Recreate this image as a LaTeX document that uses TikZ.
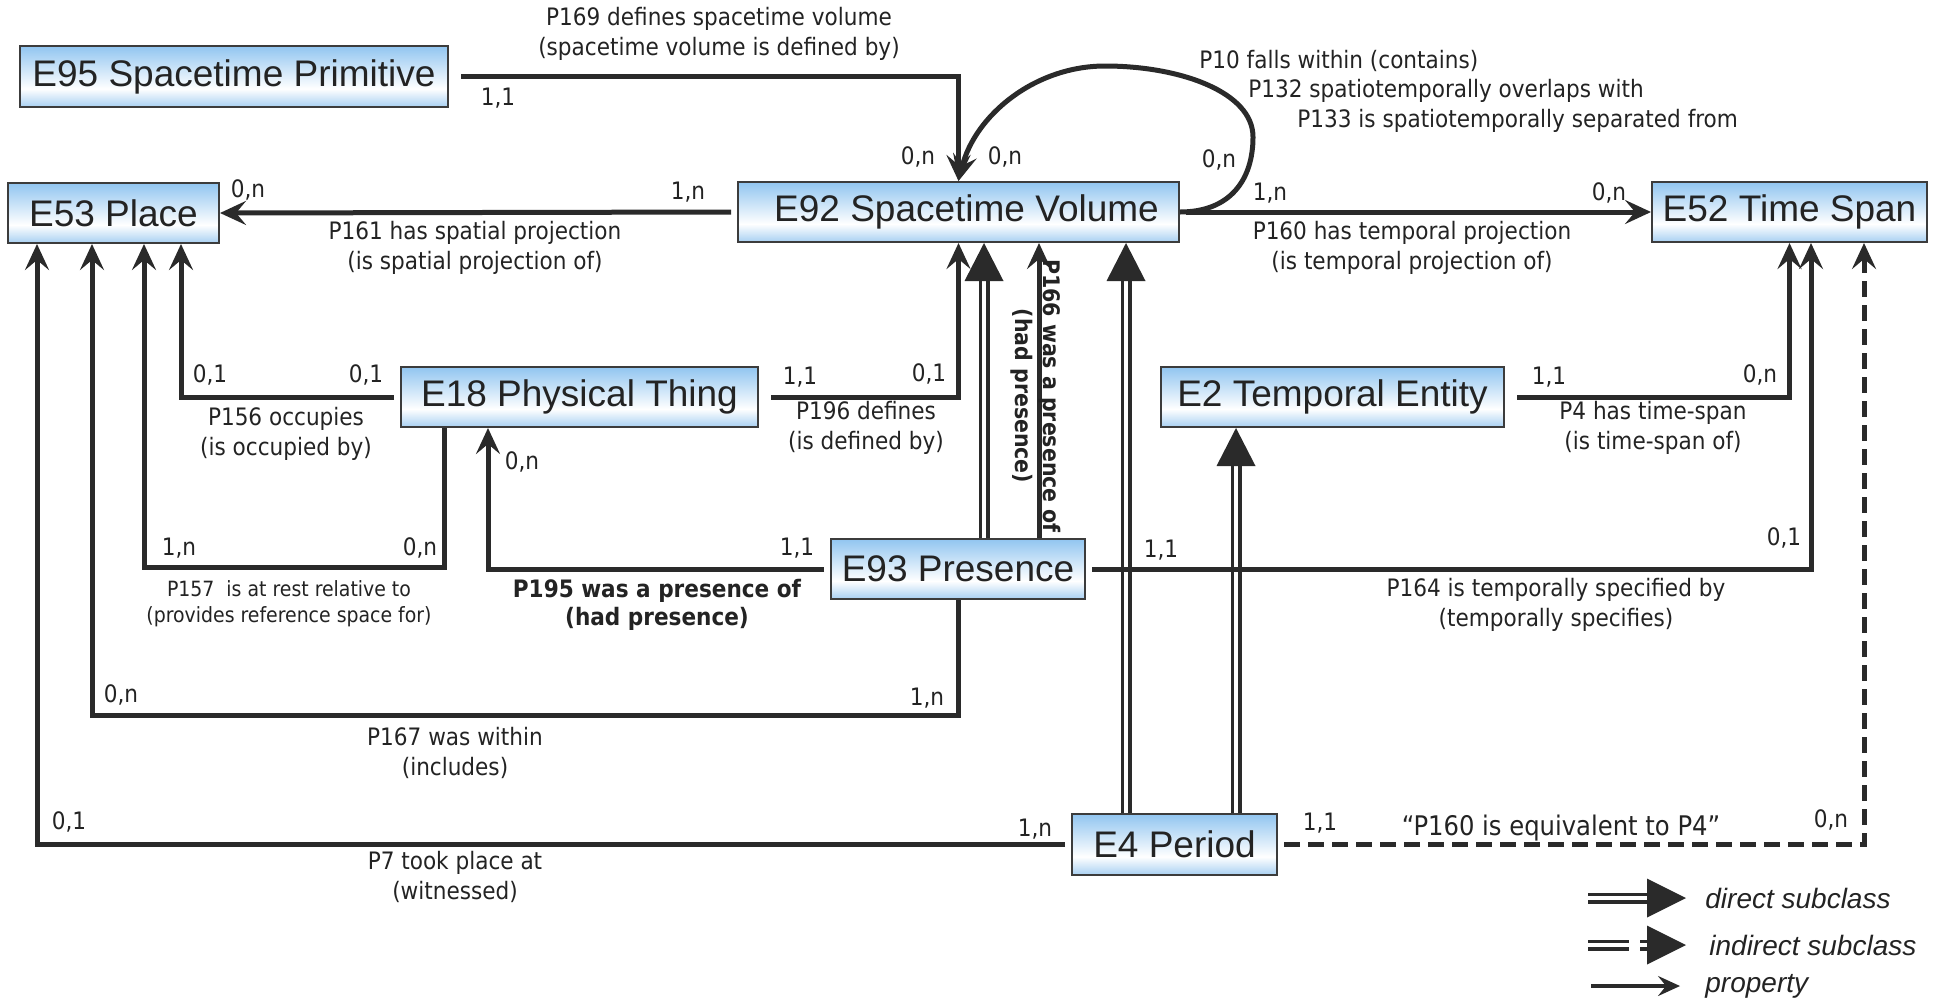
\documentclass[tikz,border=0pt]{standalone}
\usepackage{fontspec}
\setmainfont{DejaVu Sans Condensed}
\newfontfamily\boxfont{Liberation Sans}
\usetikzlibrary{arrows.meta,calc}
\definecolor{ln}{RGB}{42,42,42}
\definecolor{txt}{RGB}{35,35,35}
\definecolor{boxline}{RGB}{60,60,60}
\definecolor{btop}{RGB}{145,197,240}
\definecolor{bbot}{RGB}{168,208,242}
\pgfdeclareverticalshading{boxshade}{100bp}{color(0bp)=(bbot); color(25bp)=(bbot); color(40bp)=(white); color(75bp)=(btop); color(100bp)=(btop)}
\tikzset{
  cls/.style={draw=boxline, line width=1pt, shade, shading=boxshade, inner sep=0pt,
    font=\boxfont\fontsize{18.5}{22}\selectfont, text=txt},
  prop/.style={draw=ln, line width=2.5pt, -{Stealth[length=13pt,width=12pt,inset=5pt]}},
  legprop/.style={draw=ln, line width=1.6pt, -{Stealth[length=11pt,width=10pt,inset=4pt]}},
  dbl/.style={draw=ln, line width=1.75pt, double=white, double distance=2pt},
  card/.style={font=\fontsize{12}{14}\selectfont, text=txt, inner sep=0pt},
  lbl/.style={font=\fontsize{12}{15}\selectfont, align=center, text=txt, inner sep=0pt},
  lblsmall/.style={font=\fontsize{10.5}{13}\selectfont, align=center, text=txt, inner sep=0pt},
  lblbold/.style={font=\fontsize{12}{14}\selectfont\bfseries, align=center, text=txt, inner sep=0pt},
  legtext/.style={font=\boxfont\itshape\fontsize{14}{16}\selectfont, text=txt, inner sep=0pt, anchor=west},
  dashline/.style={dash pattern=on 8pt off 4pt}
}
\begin{document}
\begin{tikzpicture}[x=0.5pt,y=-0.5pt]
\useasboundingbox (0,0) rectangle (1941,1002);

% classes
\node[cls, minimum width=214pt, minimum height=30.5pt] (e95) at (234,76.5) {E95 Spacetime Primitive};
\node[cls, minimum width=105.5pt, minimum height=30pt] (e53) at (113.5,213) {E53 Place};
\node[cls, minimum width=220.5pt, minimum height=30pt] (e92) at (958.5,212) {\hspace*{8pt}E92 Spacetime Volume};
\node[cls, minimum width=137.5pt, minimum height=30pt] (e52) at (1789.5,212) {E52 Time Span};
\node[cls, minimum width=178.5pt, minimum height=30pt] (e18) at (579.5,397) {E18 Physical Thing};
\node[cls, minimum width=171.5pt, minimum height=30pt] (e2) at (1332.5,397) {E2 Temporal Entity};
\node[cls, minimum width=127pt, minimum height=30pt] (e93) at (958,569) {E93 Presence};
\node[cls, minimum width=102.5pt, minimum height=30.5pt] (e4) at (1174.5,844.5) {E4 Period};

% helper coordinates for connector routes
\coordinate (c156) at (181,0);
\coordinate (c157) at (444,567);
\coordinate (c157b) at (144,567);
\coordinate (c195) at (488,0);
\coordinate (c167) at (92,715);
\coordinate (c7) at (37,0);
\coordinate (c164) at (1811,0);
\coordinate (c160) at (1864,0);
\coordinate (c166) at (1039,0);
\coordinate (s1) at (984,0);
\coordinate (s2) at (1126,0);
\coordinate (s3) at (1236,0);

% subclass links
\draw[dbl, shorten >=15pt] (s1 |- e93.north) -- (s1 |- e92.south);
\fill[ln] (s1 |- e92.south) -- ++(-19.5,38) -- ++(39,0) -- cycle;
\draw[dbl, shorten >=15pt] (s2 |- e4.north) -- (s2 |- e92.south);
\fill[ln] (s2 |- e92.south) -- ++(-19.5,38) -- ++(39,0) -- cycle;
\draw[dbl, shorten >=15pt] (s3 |- e4.north) -- (s3 |- e2.south);
\fill[ln] (s3 |- e2.south) -- ++(-19.5,38) -- ++(39,0) -- cycle;

% properties
\draw[prop, shorten <=6pt] (e95.east) -| (e92.north);
\draw[prop] (e92.east) .. controls (1230,212) and (1253,180) .. (1253,137)
  .. controls (1253,92) and (1180,66) .. (1105,66)
  .. controls (1035,66) and (975,115) .. (e92.north);
\draw[prop, shorten <=3pt] (e92.west) -- (e53.east);
\draw[prop, shorten <=3pt] (e92.east) -- (e52.west);
\draw[prop, shorten <=3pt] (e18.west) -| (c156 |- e53.south);
\draw[prop] (c157 |- e18.south) -- (c157) -- (c157b) -- (c157b |- e53.south);
\draw[prop, shorten <=3pt] (e93.west) -| (c195 |- e18.south);
\draw[prop] (e93.south) |- (c167) -- (c167 |- e53.south);
\draw[prop, shorten <=3pt] (e4.west) -| (c7 |- e53.south);
\draw[prop, shorten <=6pt] (e18.east) -| (e92.south);
\draw[prop] (c166 |- e93.north) -- (c166 |- e92.south);
\draw[prop, shorten <=3pt] (e93.east) -| (c164 |- e52.south);
\draw[prop, shorten <=6pt] (e2.east) -| (e52.south);
\draw[prop, dashline, shorten <=3pt] (e4.east) -| (c160 |- e52.south);

% property labels
\node[lbl] (l169) at (719,34) {P169 defines spacetime volume\\(spacetime volume is defined by)};
\node[lbl, anchor=west] (l10) at (1199,61) {P10 falls within (contains)};
\node[lbl, anchor=west] (l132) at (1248,91) {P132 spatiotemporally overlaps with};
\node[lbl, anchor=west] (l133) at (1297,121) {P133 is spatiotemporally separated from};
\node[lbl] (l161) at (475,248) {P161 has spatial projection\\(is spatial projection of)};
\node[lbl] (l160) at (1412,248) {P160 has temporal projection\\(is temporal projection of)};
\node[lbl] (l156) at (286,434) {P156 occupies\\(is occupied by)};
\node[lbl] (l196) at (866,428) {P196 defines\\(is defined by)};
\node[lbl] (l4) at (1653,428) {P4 has time-span\\(is time-span of)};
\node[lblsmall] (l157) at (289,604) {P157~~is at rest relative to\\(provides reference space for)};
\node[lblbold] (l195) at (657,605) {P195 was a presence of\\(had presence)};
\node[lblbold, font=\fontsize{11.4}{14}\selectfont\bfseries, rotate=-90] (l166) at (1036,396) {P166 was a presence of\\(had presence)};
\node[lbl] (l164) at (1556,605) {P164 is temporally specified by\\(temporally specifies)};
\node[lbl] (l167) at (455,753) {P167 was within\\(includes)};
\node[lbl] (l7) at (455,877) {P7 took place at\\(witnessed)};
\node[lbl, font=\fontsize{13.5}{16}\selectfont] (leq) at (1561,828) {“P160 is equivalent to P4”};

% cardinalities
\node[card] (k1) at (498,98) {1,1};
\node[card] (k2) at (918,157) {0,n};
\node[card] (k3) at (1005,157) {0,n};
\node[card] (k4) at (1219,160) {0,n};
\node[card] (k5) at (688,192) {1,n};
\node[card] (k6) at (248,190) {0,n};
\node[card] (k7) at (1270,193) {1,n};
\node[card] (k8) at (1609,193) {0,n};
\node[card] (k9) at (210,375) {0,1};
\node[card] (k10) at (366,375) {0,1};
\node[card] (k11) at (179,548) {1,n};
\node[card] (k12) at (420,548) {0,n};
\node[card] (k13) at (797,548) {1,1};
\node[card] (k14) at (522,462) {0,n};
\node[card] (k15) at (800,377) {1,1};
\node[card] (k16) at (929,374) {0,1};
\node[card] (k17) at (1161,550) {1,1};
\node[card] (k18) at (1784,538) {0,1};
\node[card] (k19) at (1549,377) {1,1};
\node[card] (k20) at (1760,375) {0,n};
\node[card] (k21) at (121,695) {0,n};
\node[card] (k22) at (927,698) {1,n};
\node[card] (k23) at (69,822) {0,1};
\node[card] (k24) at (1035,829) {1,n};
\node[card] (k25) at (1320,823) {1,1};
\node[card] (k26) at (1831,820) {0,n};

% legend
\coordinate (g1a) at (1588,898);
\coordinate (g1b) at (1650,898);
\coordinate (g1t) at (1686,898);
\draw[dbl] (g1a) -- (g1b);
\fill[ln] (g1t) -- ++(-39,-19.5) -- ++(0,39) -- cycle;
\node[legtext] (t1) at (1705,898) {direct subclass};
\coordinate (g2a) at (1588,945);
\coordinate (g2b) at (1629,945);
\coordinate (g2c) at (1640,945);
\coordinate (g2d) at (1650,945);
\coordinate (g2t) at (1686,945);
\draw[dbl] (g2a) -- (g2b);
\draw[dbl] (g2c) -- (g2d);
\fill[ln] (g2t) -- ++(-39,-19.5) -- ++(0,39) -- cycle;
\node[legtext] (t2) at (1709,945) {indirect subclass};
\coordinate (g3a) at (1591,986);
\coordinate (g3b) at (1680,986);
\draw[legprop] (g3a) -- (g3b);
\node[legtext] (t3) at (1705,986) {property};
\end{tikzpicture}
\end{document}
